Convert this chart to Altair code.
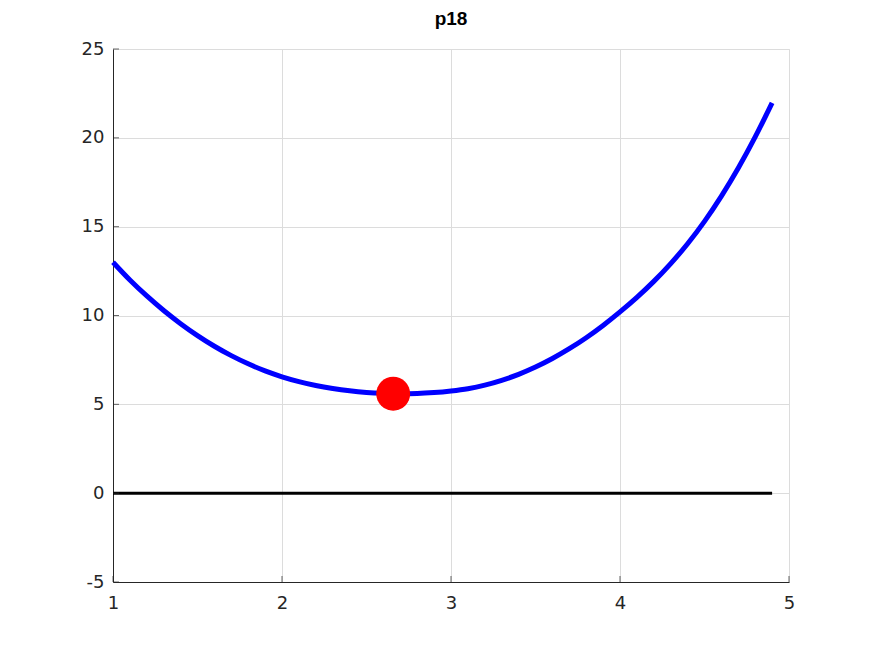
import altair as alt
import pandas as pd

# Curve values
curve_x = [1.0, 1.1, 1.2, 1.3, 1.4, 1.5, 1.6, 1.7, 1.8, 1.9,
           2.0, 2.1, 2.2, 2.3, 2.4, 2.5, 2.6, 2.7, 2.8, 2.9,
           3.0, 3.1, 3.2, 3.3, 3.4, 3.5, 3.6, 3.7, 3.8, 3.9,
           4.0, 4.1, 4.2, 4.3, 4.4, 4.5, 4.6, 4.7, 4.8, 4.9]
curve_y = [13.0, 12.0, 11.1, 10.28, 9.54, 8.87, 8.27, 7.74, 7.28, 6.88,
           6.55, 6.28, 6.06, 5.89, 5.76, 5.67, 5.62, 5.6, 5.61, 5.66,
           5.75, 5.88, 6.08, 6.35, 6.69, 7.1, 7.58, 8.13, 8.75, 9.44,
           10.2, 11.02, 11.92, 12.92, 14.04, 15.3, 16.72, 18.3, 20.05, 21.97]

zero_x = [1.0, 4.9]
zero_y = [0.0, 0.0]

min_x = [2.658]
min_y = [5.6]

x_ticks = [1, 2, 3, 4, 5]
y_ticks = [-5, 0, 5, 10, 15, 20, 25]

W, H = 676, 533
FONT = "Liberation Sans"
LFONT = "DejaVu Sans"
LSIZE = 18

curve_df = pd.DataFrame({"x": curve_x, "y": curve_y})
zero_df = pd.DataFrame({"x": zero_x, "y": zero_y})
min_df = pd.DataFrame({"x": min_x, "y": min_y})
xt_df = pd.DataFrame({"x": x_ticks})
yt_df = pd.DataFrame({"y": y_ticks})

xs = alt.Scale(domain=[1, 5], nice=False, zero=False)
ys = alt.Scale(domain=[-5, 25], nice=False, zero=False)

xax = alt.Axis(values=x_ticks, title=None, labelPadding=12, labelFlush=False,
               labelFont=LFONT, labelFontSize=LSIZE,
               labelExpr="'' + datum.value")
yax = alt.Axis(values=y_ticks, title=None, labelPadding=9, labelFlush=False,
               labelFont=LFONT, labelFontSize=LSIZE,
               labelExpr="'' + datum.value")

X = alt.X("x:Q", scale=xs, axis=xax)
Y = alt.Y("y:Q", scale=ys, axis=yax)

base_axes = alt.Chart(curve_df).mark_line(opacity=0).encode(x=X, y=Y)

zero_line = alt.Chart(zero_df).mark_line(color="black", strokeWidth=3).encode(x=X, y=Y)

curve = alt.Chart(curve_df).mark_line(color="#0000ff", strokeWidth=5,
                                      interpolate="monotone").encode(x=X, y=Y)

dot = alt.Chart(min_df).mark_point(filled=True, shape="circle", color="#ff0000",
                                   size=1150, opacity=1).encode(x=X, y=Y)

ytick_marks = alt.Chart(yt_df).mark_tick(color="#262626", size=6, thickness=1,
                                         orient="horizontal").encode(y=Y, x=alt.value(3))
xtick_marks = alt.Chart(xt_df).mark_tick(color="#262626", size=6, thickness=1,
                                         orient="vertical").encode(x=X, y=alt.value(H - 3))

chart = alt.layer(base_axes, zero_line, curve, dot, ytick_marks, xtick_marks).properties(
    width=W, height=H,
    title=alt.TitleParams("p18", font=FONT, fontSize=19, fontWeight="bold",
                          color="black", anchor="middle", offset=11),
    autosize=alt.AutoSizeParams(type="none"),
    padding={"left": 105, "top": 41, "right": 40, "bottom": 50},
).configure_view(stroke=None).configure(background="white").configure_axis(
    grid=True, gridColor="#dcdcdc", gridOpacity=1, ticks=False, labelFlush=False,
    domainColor="#262626", domainOpacity=1, labelColor="#262626",
    labelFont=LFONT, labelFontSize=LSIZE,
)

chart.save("out.html", embed_options={"renderer": "svg", "actions": False})
